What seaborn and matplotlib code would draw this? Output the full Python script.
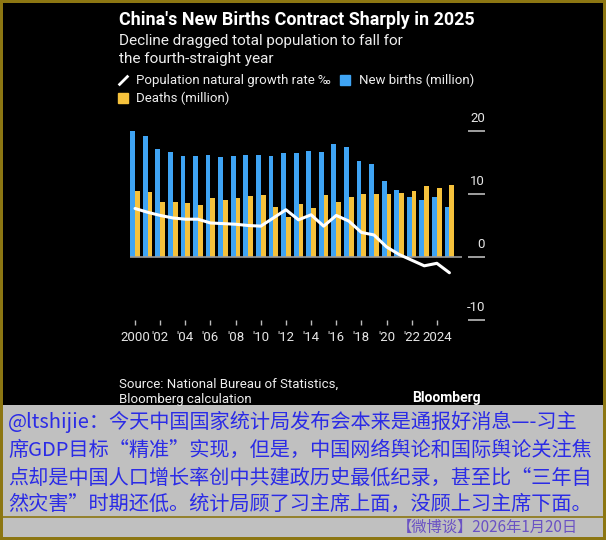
import matplotlib.pyplot as plt
import matplotlib.transforms as mtransforms
from matplotlib.lines import Line2D
from matplotlib.patches import Rectangle
import pandas as pd
import seaborn as sns

years = list(range(2000, 2026))
births = [20.0, 19.2, 17.1, 16.6, 16.1, 16.0, 16.2, 15.9, 16.0, 16.2, 16.2, 16.1, 16.5,
          16.5, 16.9, 16.7, 18.0, 17.4, 15.3, 14.8, 12.1, 10.7, 9.6, 9.1, 9.6, 7.9]
deaths = [10.4, 10.3, 8.8, 8.8, 8.5, 8.3, 9.3, 9.1, 9.3, 9.7, 9.8, 7.9, 6.3,
          8.4, 7.7, 9.8, 8.8, 9.5, 10.0, 10.0, 10.0, 10.2, 10.5, 11.2, 11.0, 11.4]
growth = [7.7, 7.1, 6.6, 6.2, 6.0, 6.0, 5.4, 5.3, 5.2, 5.0, 4.9, 6.2, 7.5,
          5.9, 6.7, 4.9, 6.6, 5.7, 3.9, 3.5, 1.6, 0.4, -0.5, -1.4, -1.0, -2.5]

x_ticks = list(range(2000, 2025, 2))
x_labels = ["2000", "'02", "'04", "'06", "'08", "'10", "'12", "'14", "'16", "'18",
            "'20", "'22", "2024"]
y_ticks = [-10, 0, 10, 20]

BLUE = "#3fa4f4"
YELLOW = "#f6c23c"
OLIVE = "#8c7612"
W, H = 606, 540
PT = 0.72  # points per pixel at dpi 100

sns.set_theme(style="dark")
plt.rcParams["font.family"] = ["Roboto", "DejaVu Sans"]

bars = pd.DataFrame({
    "year": years * 2,
    "value": births + deaths,
    "series": ["New births (million)"] * len(years) + ["Deaths (million)"] * len(years),
})

fig = plt.figure(figsize=(W / 100, H / 100), dpi=100, facecolor=OLIVE)


def fx(px):
    return px / W


def fy(py):
    return 1 - py / H


# background panels
fig.patches.append(Rectangle((fx(3), fy(405)), fx(600), 402 / H, transform=fig.transFigure,
                             facecolor="black", edgecolor="none", zorder=-10))
fig.patches.append(Rectangle((fx(3), fy(537)), fx(600), 132 / H, transform=fig.transFigure,
                             facecolor="#c0c0c0", edgecolor="none", zorder=-10))
fig.add_artist(Line2D([fx(3), fx(603)], [fy(517), fy(517)], color=OLIVE, lw=1.2))

ax = fig.add_axes([fx(130), fy(320), fx(332), 192.15 / H])
ax.set_facecolor("none")

sns.barplot(data=bars, x="year", y="value", hue="series", native_scale=True,
            palette=[BLUE, YELLOW], width=0.76, errorbar=None, legend=False,
            saturation=1, edgecolor="none", linewidth=0, ax=ax, zorder=2)
ax.axhline(0, color="#9a9a9a", lw=1.2, zorder=3)
sns.lineplot(x=years, y=growth, color="white", lw=2.2, ax=ax, zorder=4)

ax.set_xlim(1999.6, 2026.0)
ax.set_ylim(-10, 20.5)
ax.set_xlabel("")
ax.set_ylabel("")
ax.grid(False)
for s in ["top", "left", "bottom", "right"]:
    ax.spines[s].set_visible(False)
ax.spines["right"].set_position(("outward", 6 * PT))

ax.set_xticks(x_ticks)
ax.set_xticklabels(x_labels)
ax.tick_params(axis="x", bottom=True, direction="out", length=5 * PT, width=1,
               color="#bbbbbb", labelcolor="#e6e6e6", labelsize=9.5, pad=4)

ax.yaxis.tick_right()
ax.set_yticks(y_ticks)
ax.tick_params(axis="y", right=True, left=False, direction="out", length=17 * PT, width=1.2,
               color="#bbbbbb", labelright=False, labelleft=False)
lab_tr = mtransforms.offset_copy(mtransforms.blended_transform_factory(ax.transAxes, ax.transData),
                                 fig=fig, x=23, y=9, units="dots")
for v in y_ticks:
    ax.text(1.0, v, str(v), transform=lab_tr, ha="right", va="baseline",
            color="#e6e6e6", fontsize=9.5)

# titles
fig.text(fx(119), fy(25), "China's New Births Contract Sharply in 2025", color="white",
         fontsize=12.9, fontweight="bold", va="baseline")
fig.text(fx(119), fy(45), "Decline dragged total population to fall for", color="#eeeeee",
         fontsize=10.95, va="baseline")
fig.text(fx(119), fy(63), "the fourth-straight year", color="#eeeeee",
         fontsize=10.95, va="baseline")

handles = [
    Line2D([], [], ls="none", marker=[(-1, -1), (1, 1)], markersize=7, markeredgewidth=2,
           color="white", label="Population natural growth rate ‰"),
    Line2D([], [], ls="none", marker="s", markersize=7.5, color=YELLOW, label="Deaths (million)"),
    Line2D([], [], ls="none", marker="s", markersize=7.5, color=BLUE, label="New births (million)"),
]
fig.legend(handles=handles, ncol=2, loc="upper left", bbox_to_anchor=(fx(117), fy(74)),
           frameon=False, fontsize=9.5, labelcolor="#eeeeee", handlelength=0.9,
           handletextpad=0.55, columnspacing=0.65, labelspacing=0.35, borderpad=0,
           borderaxespad=0)

fig.text(fx(119), fy(388), "Source: National Bureau of Statistics,", color="#eeeeee",
         fontsize=9.5, va="baseline")
fig.text(fx(119), fy(403), "Bloomberg calculation", color="#eeeeee",
         fontsize=9.5, va="baseline")
fig.text(fx(481), fy(402), "Bloomberg", color="white", fontsize=10, fontweight="bold",
         ha="right", va="baseline")

# comment panel
cn_lines = [
    "@ltshijie：今天中国国家统计局发布会本来是通报好消息—-习主",
    "席GDP目标“精准”实现，但是，中国网络舆论和国际舆论关注焦",
    "点却是中国人口增长率创中共建政历史最低纪录，甚至比“三年自",
    "然灾害”时期还低。统计局顾了习主席上面，没顾上习主席下面。",
]
cn_y = [422, 450, 478, 504]
for line, yy in zip(cn_lines, cn_y):
    fig.text(fx(8), fy(yy), line, color="#2b2be6", fontsize=14.5, va="center",
             family=["Noto Sans CJK SC", "DejaVu Sans"])
fig.text(fx(578), fy(527), "【微博谈】2026年1月20日", color="#6a52c4", fontsize=11,
         ha="right", va="center", family=["Noto Sans CJK SC", "DejaVu Sans"])

fig.savefig("out.png", dpi=100, facecolor=OLIVE)
